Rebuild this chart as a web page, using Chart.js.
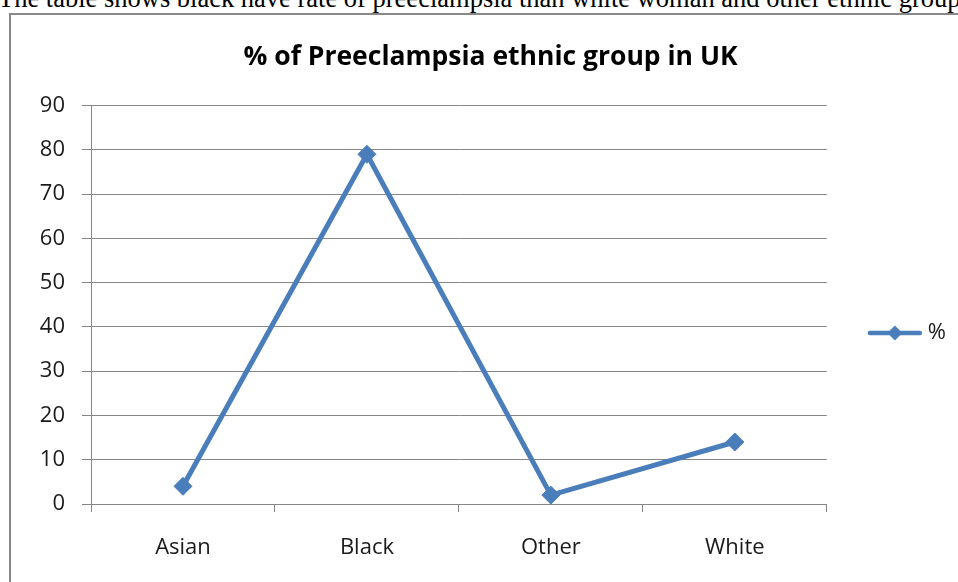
<!DOCTYPE html>
<html>
<head>
<meta charset="utf-8">
<script src="https://cdn.jsdelivr.net/npm/chart.js@4"></script>
<style>
  html, body { margin: 0; padding: 0; background: #fff; overflow: hidden; }
  #page { position: relative; width: 958px; height: 582px; overflow: hidden; background: #fff; }
  #caption {
    position: absolute; left: -2px; top: -15px; white-space: nowrap;
    font-family: "Liberation Serif", "DejaVu Serif", serif; font-size: 26.5px; line-height: 26.5px; color: #000;
  }
  #frame {
    position: absolute; left: 9px; top: 13px; width: 1000px; height: 700px;
    border: 2px solid #898989; box-sizing: border-box;
  }
  #chart { position: absolute; left: 0; top: 0; }
</style>
</head>
<body>
<div id="page">
  <div id="caption">The table shows black have rate of preeclampsia than white woman and other ethnic group</div>
  <div id="frame"></div>
  <canvas id="chart" width="958" height="666"></canvas>
</div>
<script>
// Ethnic groups and the share of preeclampsia cases in each
const categories = ['Asian', 'Black', 'Other', 'White'];
const percentValues = [4, 79, 2, 14];
const seriesLabel = '%';
const yTicks = { min: 0, max: 90, step: 10 };

const lineBlue = '#4A7EBB';
const gridGray = '#868686';
const textColor = '#1a1a1a';
const uiFont = '"Open Sans", Lato, "Liberation Sans", sans-serif';

// Legend swatch: short line with a diamond marker in the middle
function makeSwatch() {
  const c = document.createElement('canvas');
  c.width = 56; c.height = 18;
  const g = c.getContext('2d');
  g.strokeStyle = lineBlue; g.fillStyle = lineBlue;
  g.lineWidth = 4.5; g.lineCap = 'round';
  g.beginPath(); g.moveTo(3, 9); g.lineTo(53, 9); g.stroke();
  g.beginPath();
  g.moveTo(28, 1.5); g.lineTo(35.5, 9); g.lineTo(28, 16.5); g.lineTo(20.5, 9); g.closePath();
  g.fill();
  return c;
}
const swatch = makeSwatch();

new Chart(document.getElementById('chart'), {
  type: 'line',
  data: {
    labels: categories,
    datasets: [{
      label: seriesLabel,
      data: percentValues,
      borderColor: lineBlue,
      backgroundColor: lineBlue,
      borderWidth: 5,
      tension: 0,
      pointStyle: 'rectRot',
      pointRadius: 9,
      pointHoverRadius: 9,
      pointBorderWidth: 1,
      pointBackgroundColor: lineBlue,
      pointBorderColor: lineBlue
    }]
  },
  options: {
    responsive: false,
    animation: false,
    events: [],
    layout: { padding: { left: 25, right: 2, top: 0, bottom: 0 } },
    plugins: {
      title: {
        display: true,
        text: '% of Preeclampsia ethnic group in UK',
        color: '#000',
        font: { family: uiFont, size: 26.5, weight: 'bold', lineHeight: 1.2 },
        padding: { top: 41.6, bottom: 32.2 }
      },
      legend: {
        display: true,
        position: 'right',
        labels: {
          usePointStyle: true,
          pointStyleWidth: 44,
          padding: 46,
          color: textColor,
          font: { family: uiFont, size: 22 },
          generateLabels: (chart) => chart.data.datasets.map((ds, i) => ({
            text: ds.label,
            pointStyle: swatch,
            fillStyle: ds.borderColor,
            strokeStyle: ds.borderColor,
            lineWidth: 0,
            fontColor: textColor,
            datasetIndex: i,
            hidden: false
          }))
        }
      },
      tooltip: { enabled: false }
    },
    scales: {
      x: {
        offset: true,
        grid: { drawOnChartArea: false, offset: true, tickLength: 8, color: gridGray, lineWidth: 1 },
        border: { color: gridGray, width: 1 },
        ticks: { color: textColor, font: { family: uiFont, size: 22 }, padding: 23 },
        afterFit: (s) => { s.height = 666 - 504; }
      },
      y: {
        min: yTicks.min,
        max: yTicks.max,
        grid: { color: gridGray, lineWidth: 1, tickLength: 9 },
        border: { color: gridGray, width: 1 },
        ticks: { stepSize: yTicks.step, color: textColor, font: { family: uiFont, size: 22 }, padding: 17 },
        afterFit: (s) => { s.width = 66; }
      }
    }
  }
});
</script>
</body>
</html>
